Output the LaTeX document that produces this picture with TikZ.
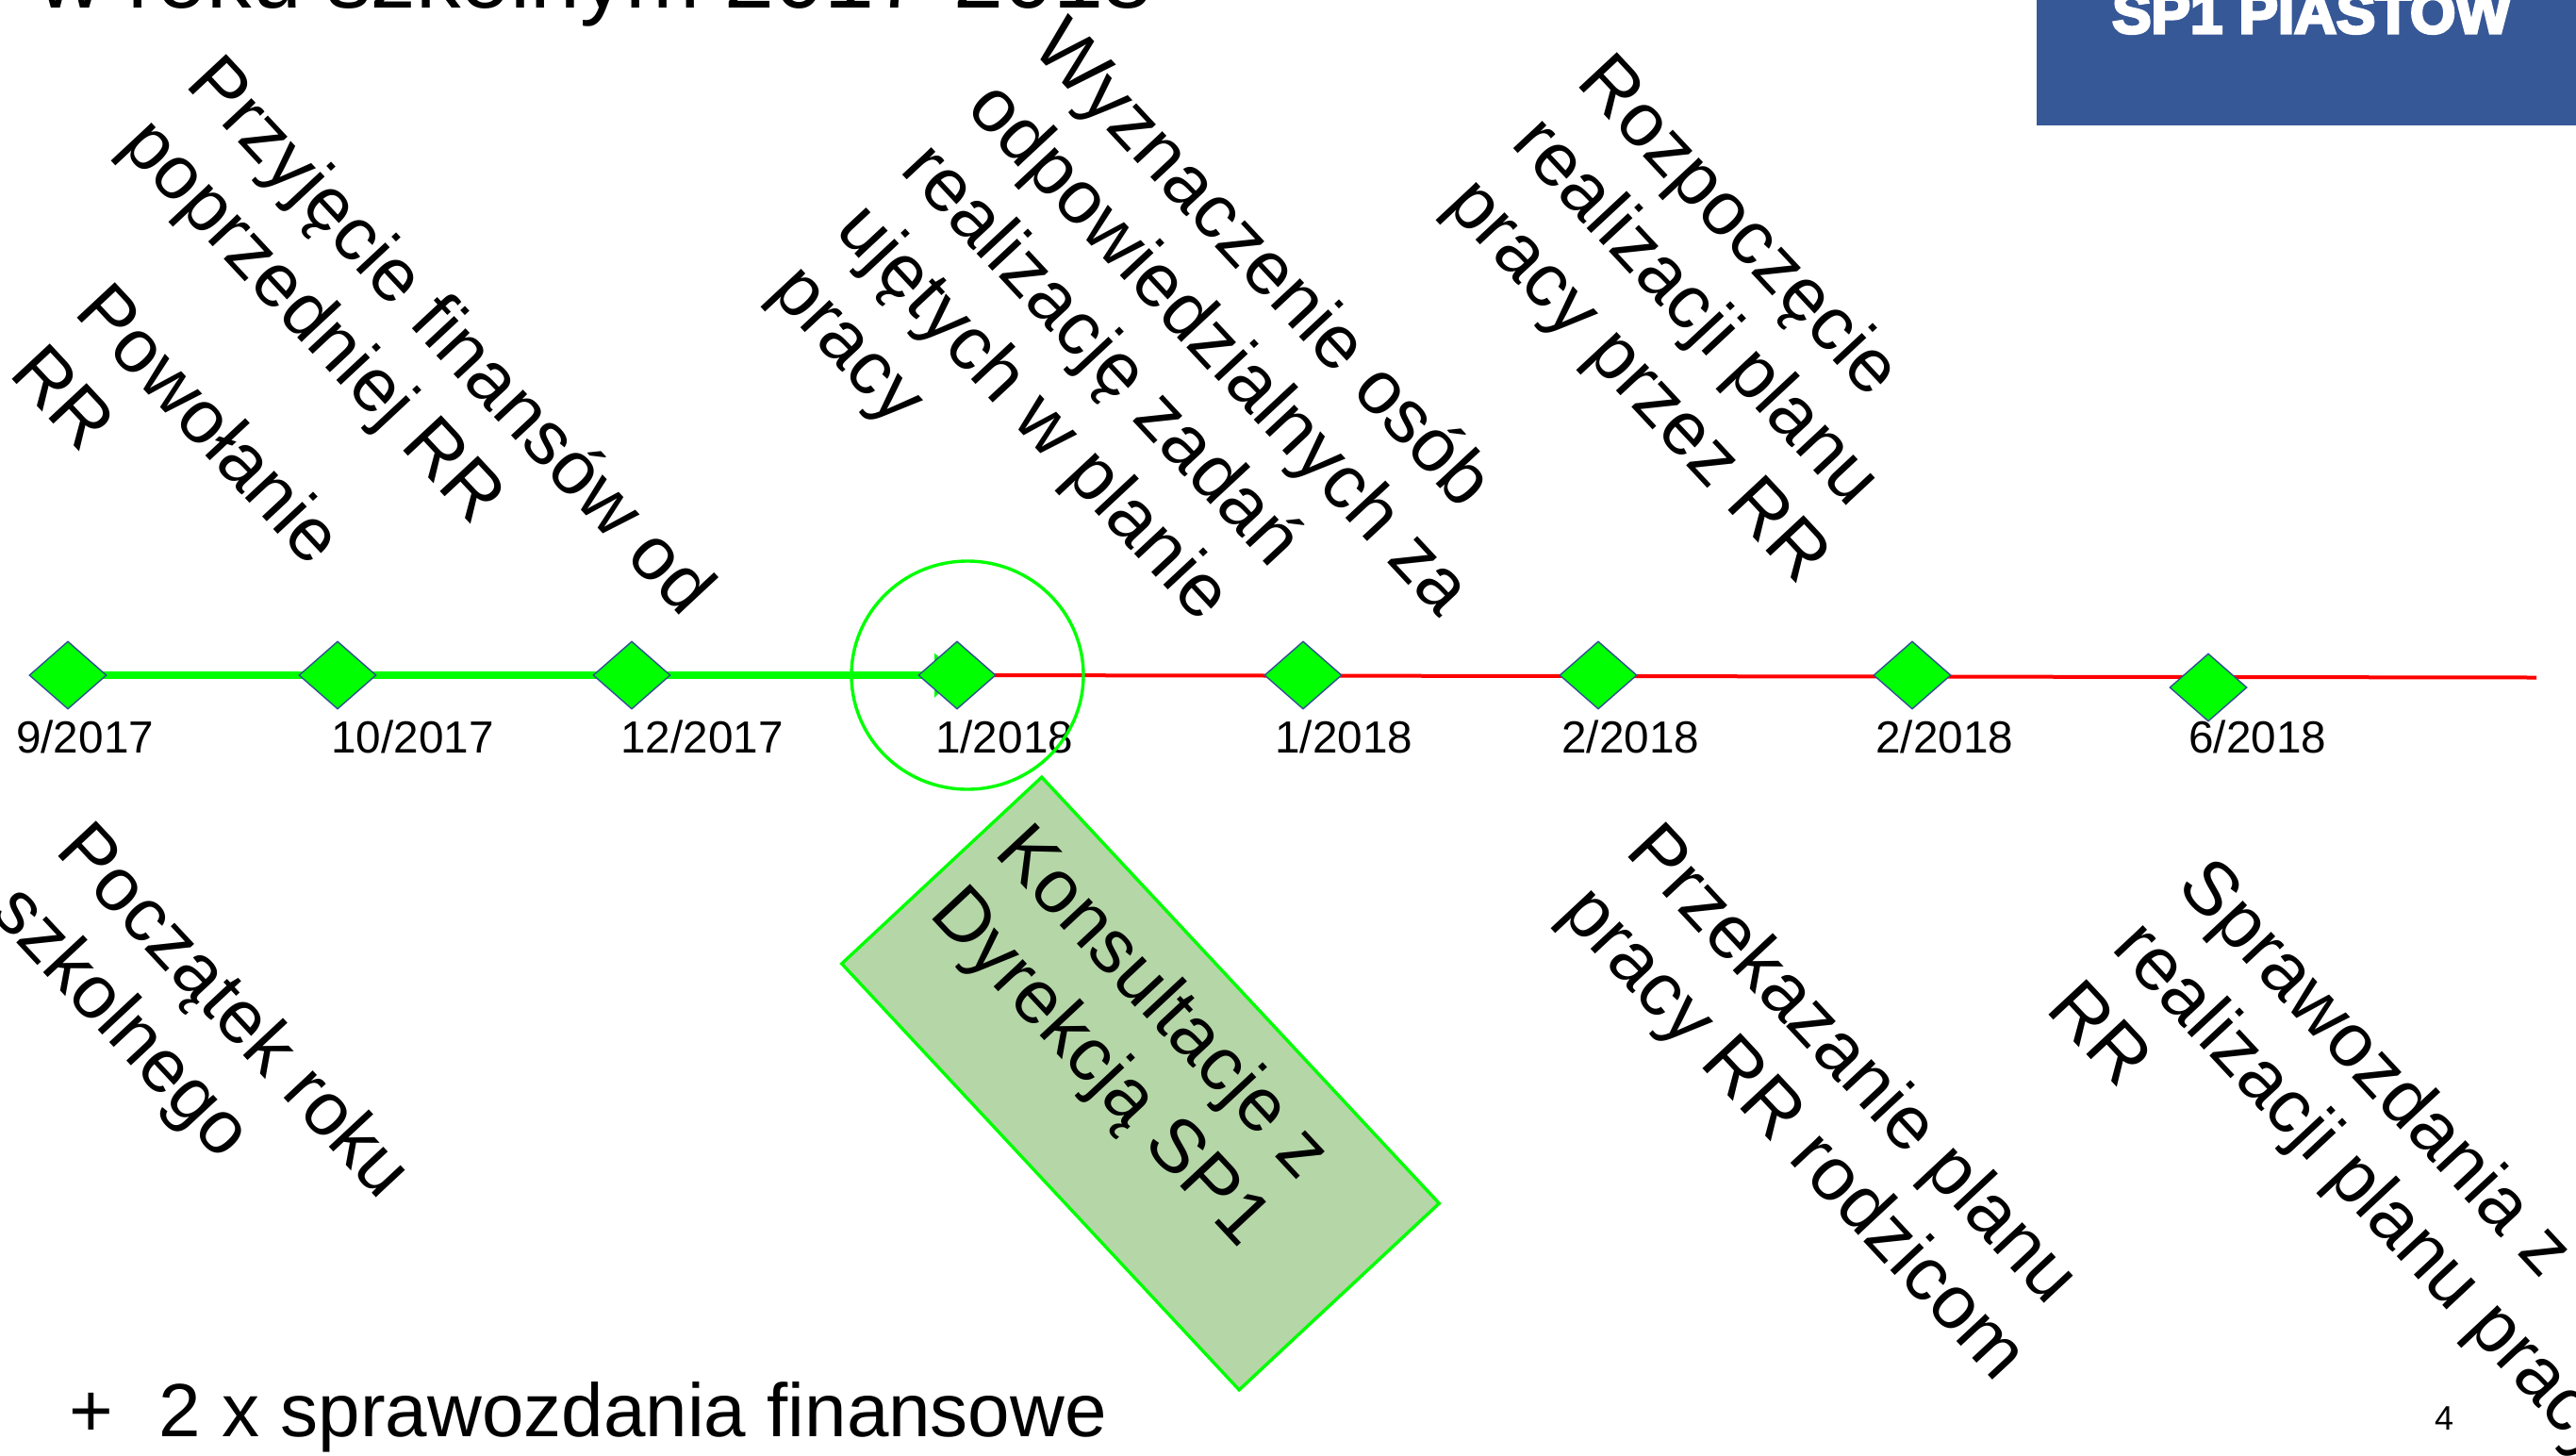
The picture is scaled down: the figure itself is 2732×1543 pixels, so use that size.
\documentclass[tikz,border=0pt]{standalone}
\usepackage{fontspec}
\setmainfont{Liberation Sans}
\newfontfamily\logofont[FakeBold=5]{Liberation Sans Bold}
\usetikzlibrary{shapes.geometric,arrows.meta,backgrounds}
\definecolor{lime}{RGB}{0,255,0}
\definecolor{logoblue}{RGB}{55,88,151}
\definecolor{boxgreen}{RGB}{181,214,167}
\definecolor{edgeblue}{RGB}{47,82,143}
\tikzset{
  milestone/.style={shape=diamond,aspect=1.14,minimum width=82pt,minimum height=72pt,inner sep=0pt,fill=lime,draw=edgeblue,line width=1.4pt},
  datelabel/.style={anchor=base west,inner sep=0pt,font=\fontsize{47.7}{57}\selectfont},
  slanted/.style={rotate=-47,anchor=north west,align=left,inner sep=0pt,font=\fontsize{80}{95}\selectfont,execute at begin node={\rule{0pt}{70pt}}},
  plain/.style={anchor=base west,inner sep=0pt},
  doneline/.style={draw=lime,line width=8pt,-{Triangle[length=24pt,width=46pt,fill=lime]}},
  todoline/.style={draw=red,line width=4pt},
}
\begin{document}
\begin{tikzpicture}[x=1pt,y=-1pt]
\useasboundingbox (0,0) rectangle (2732,1543);
% logo
\node[shape=rectangle,fill=logoblue,inner sep=0pt,minimum width=572pt,minimum height=133pt] (logo) at (2446,66.5) {};
\node[plain,text=white,font=\logofont\fontsize{62}{70}\selectfont] (logotext) at (2240,35) {SP1 PIASTOW};
% title
\node[plain,font=\fontsize{95}{110}\selectfont] (title) at (40,8) {w roku szkolnym 2017-2018};
% milestones
\node[milestone] (d1) at (72,716) {};
\node[milestone] (d2) at (358,716) {};
\node[milestone] (d3) at (670,716) {};
\node[milestone] (d4) at (1015,716) {};
\node[milestone] (d5) at (1382,716) {};
\node[milestone] (d6) at (1695,716) {};
\node[milestone] (d7) at (2028,716) {};
\node[milestone] (d8) at (2342,729) {};
\coordinate (lineend) at (2690,718.5);
\begin{scope}[on background layer]
  \draw[todoline] (d4.center) -- (lineend);
  \draw[doneline] (d1.center) -- (d4.center);
\end{scope}
% dates
\node[datelabel] (t1) at (17,798) {9/2017};
\node[datelabel] (t2) at (351,798) {10/2017};
\node[datelabel] (t3) at (658,798) {12/2017};
\node[datelabel] (t4) at (992,798) {1/2018};
\node[datelabel] (t5) at (1352,798) {1/2018};
\node[datelabel] (t6) at (1656,798) {2/2018};
\node[datelabel] (t7) at (1989,798) {2/2018};
\node[datelabel] (t8) at (2321,798) {6/2018};
% highlighted
\node[shape=ellipse,draw=lime,line width=3.4pt,inner sep=0pt,minimum width=246pt,minimum height=242pt] (focus) at (1026,716) {};
\node[shape=rectangle,rotate=-47,fill=boxgreen,draw=lime,line width=3.4pt,inner sep=0pt,minimum width=618pt,minimum height=290pt] (box) at (1209.5,1149) {};
% upper texts
\node[slanted] (a1) at (120,293) {Powołanie\\RR};
\node[slanted] (a2) at (239,50) {Przyjęcie finansów od\\poprzedniej RR};
\node[slanted] (a3) at (1136,11) {Wyznaczenie osób\\odpowiedzialnych za\\realizację zadań\\ujętych w planie\\pracy};
\node[slanted] (a4) at (1713,49) {Rozpoczęcie\\realizacji planu\\pracy przez RR};
% lower texts
\node[slanted] (b1) at (100,864) {Początek roku\\szkolnego};
\node[slanted] (b2) at (1096,866) {Konsultacje z\\Dyrekcją SP1};
\node[slanted] (b3) at (1765,865) {Przekazanie planu\\pracy RR rodzicom};
\node[slanted] (b4) at (2350,902) {Sprawozdania z\\realizacji planu pracy\\RR};
% footer
\node[plain,font=\fontsize{80}{92}\selectfont] (note) at (73,1523) {+\hspace{49pt}2 x sprawozdania finansowe};
\node[plain,font=\fontsize{36}{42}\selectfont] (page) at (2582,1516) {4};
\end{tikzpicture}
\end{document}
